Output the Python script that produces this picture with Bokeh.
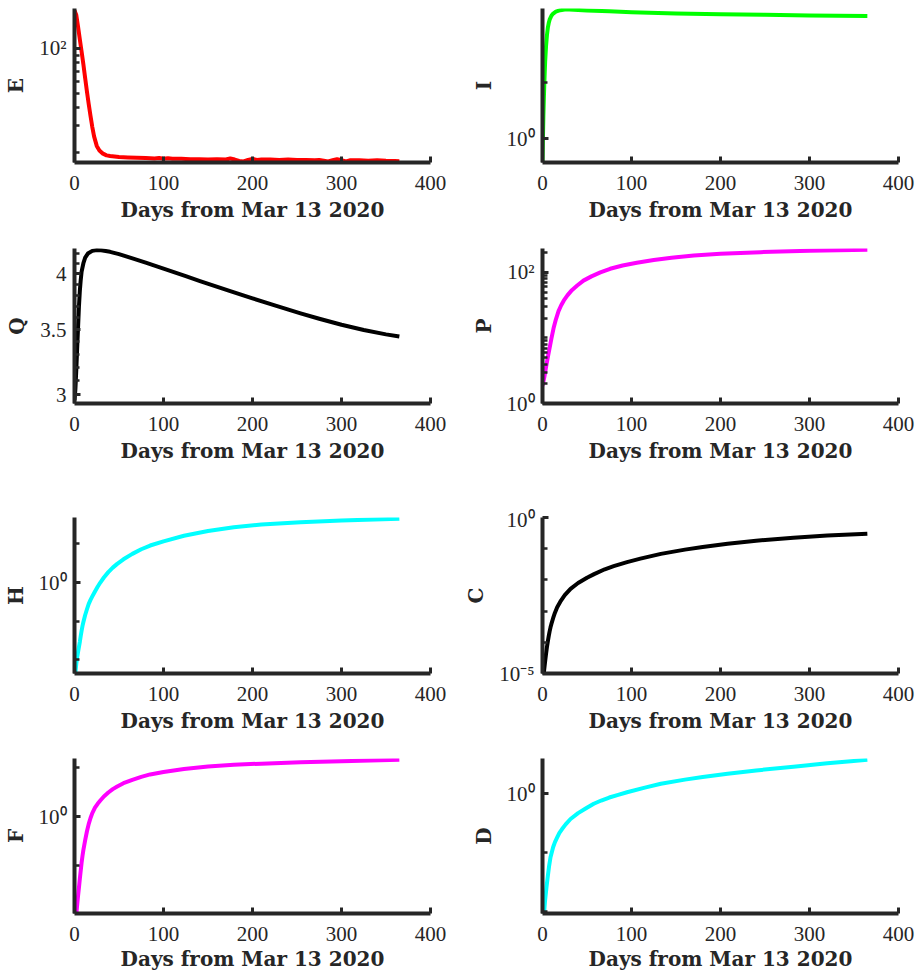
from bokeh.plotting import figure
from bokeh.models import Range1d, FixedTicker, CustomJSTickFormatter
from bokeh.layouts import column, row
from bokeh.embed import file_html
from bokeh.resources import INLINE

X_LABEL = "Days from Mar 13 2020"
x_ticks = [0, 100, 200, 300, 400]

# ---- E ----
E_days = [0, 2, 4, 6, 8, 10, 12, 14, 16, 18, 20, 22, 25, 28, 32, 36, 40, 50, 60, 70,
          80, 90, 95, 100, 105, 110, 120, 130, 140, 150, 160, 170, 175, 180, 185, 190, 195, 200, 205, 210,
          220, 230, 240, 250, 260, 270, 275, 280, 285, 290, 295, 300, 305, 310, 320, 330, 340, 350, 360, 365]
E_vals = [180, 168, 140, 115, 95, 78, 63, 51, 42, 35, 29.5, 25.5, 22, 20.5, 19.5, 19, 18.8, 18.5, 18.4, 18.3,
          18.2, 18.1, 18.25, 18.0, 18.15, 18.0, 18.0, 17.9, 17.9, 17.8, 17.9, 17.8, 18.1, 17.8, 17.4, 17.3, 17.7, 18.0, 17.7, 17.8,
          17.8, 17.7, 17.8, 17.7, 17.7, 17.6, 17.7, 17.5, 17.3, 17.6, 17.9, 17.6, 17.3, 17.6, 17.6, 17.5, 17.6, 17.45, 17.4, 17.35]
E_range = (17.0, 186.0)
E_major = [100]
E_minor = [20, 30, 40, 50, 60, 70, 80, 90]

# ---- I ----
I_days = [0, 0.5, 1, 1.5, 2, 2.5, 3, 4, 5, 6, 7, 8, 10, 12, 15, 20, 25, 30, 40, 50, 75, 100, 150, 200, 250, 300, 365]
I_vals = [0.38, 1.0, 2.5, 5, 9, 15, 24, 45, 70, 95, 115, 132, 155, 170, 184, 195, 200, 200, 197, 193, 186, 180, 171, 165, 161, 157.5, 153]
I_range = (0.373, 209.0)
I_major = [1]
I_minor = [10]

# ---- Q ----
Q_days = [0, 1, 2, 3, 4, 5, 6, 7, 8, 10, 12, 15, 20, 25, 30, 40, 50, 66, 80, 100,
          125, 141, 175, 200, 225, 254, 275, 300, 325, 350, 365]
Q_vals = [2.96, 3.04, 3.18, 3.35, 3.52, 3.70, 3.84, 3.94, 4.02, 4.10, 4.155, 4.195, 4.222, 4.2306, 4.2275, 4.2125, 4.1895,
          4.1449, 4.1048, 4.0466, 3.9751, 3.930, 3.8375, 3.7714, 3.7084, 3.6393, 3.5929, 3.5419, 3.4975, 3.4619, 3.4438]
Q_range = (2.937, 4.246)
Q_major = [3, 3.5, 4]
Q_minor = [3.1, 3.2, 3.3, 3.4, 3.6, 3.7, 3.8, 3.9, 4.1, 4.2]

# ---- P ----
P_days = [0, 2, 4, 6, 8, 10, 12.7, 15, 18, 21, 24, 28, 33, 39, 46, 55, 65, 76, 90, 106, 125, 145, 170, 200, 245, 300, 365]
P_vals = [1.86, 2.51, 3.63, 5.09, 7.08, 9.77, 14.6, 19.1, 25.7, 31.6, 37.4, 44.7, 53.7, 63.1, 75.0, 87.1, 100, 113.8, 127.4,
          140.6, 154.9, 167.9, 182, 192.8, 204.2, 213.8, 221.8]
P_range = (1.0, 232.0)
P_major = [1, 100]
P_minor = [2, 3, 4, 5, 6, 7, 8, 9, 10, 20, 30, 40, 50, 60, 70, 80, 90, 200]

# ---- H ----
H_days = [0, 1, 2, 3, 4, 5, 6, 7, 8, 9, 10, 12, 14, 16, 18, 20, 23, 26, 29, 33, 38, 43, 48, 55, 65, 75, 85,
          100, 123, 150, 179, 210, 254, 300, 365]
H_vals = [0.00251, 0.00468, 0.00794, 0.0117, 0.0162, 0.0219, 0.0295, 0.0417, 0.0575, 0.0759, 0.0955, 0.145, 0.204,
          0.282, 0.355, 0.437, 0.589, 0.776, 1.0, 1.35, 1.86, 2.43, 3.04, 3.98, 5.5, 7.24, 9.04,
          11.6, 16.2, 21.4, 26.9, 31.6, 36.3, 40.3, 44.7]
H_range = (0.00447, 47.9)
H_major = [1]
H_minor = [0.01, 0.1, 10]

# ---- C ----
C_days = [0, 1, 2, 3, 4, 5, 6, 7, 8, 9, 10, 12, 14, 16.5, 20, 25, 31.5, 40, 50, 58, 70, 80, 95, 110, 133,
          160, 180, 208, 240, 282, 320, 365]
C_vals = [4e-6, 7.9e-6, 1.41e-5, 2.51e-5, 4.27e-5, 7.08e-5, 1.07e-4, 1.58e-4, 2.24e-4, 3.02e-4, 3.89e-4, 6.03e-4,
          8.91e-4, 1.33e-3, 2.0e-3, 3.24e-3, 5.19e-3, 7.94e-3, 1.17e-2, 1.53e-2, 2.19e-2, 2.75e-2, 3.72e-2, 4.79e-2,
          6.84e-2, 9.33e-2, 0.1135, 0.1445, 0.18, 0.224, 0.263, 0.302]
C_range = (1e-5, 1.0)
C_major = [1e-5, 1]
C_minor = [1e-4, 1e-3, 1e-2, 1e-1]

# ---- F ----
F_days = [0, 1, 2, 3, 4, 5, 6, 7, 8, 9, 10, 12, 14, 16, 18, 20, 23, 26, 29, 33, 38, 43, 48, 55, 65, 75, 85,
          100, 123, 150, 179, 210, 254, 300, 365]
F_vals = [0.0025, 0.005, 0.01, 0.0158, 0.024, 0.0355, 0.0537, 0.0794, 0.115, 0.158, 0.209, 0.331, 0.501, 0.708,
          0.933, 1.175, 1.514, 1.82, 2.12, 2.57, 3.09, 3.63, 4.12, 4.79, 5.62, 6.46, 7.24,
          8.13, 9.33, 10.47, 11.35, 12.02, 12.82, 13.49, 14.35]
F_range = (0.0105, 15.3)
F_major = [1]
F_minor = [0.1, 10]

# ---- D ----
D_days = [0, 1, 2, 3, 4.5, 6, 7.5, 9, 12, 14, 16.5, 19, 22, 26, 31.5, 40, 48, 57.6, 66, 75, 85, 95, 115, 133,
          160, 180, 208, 240, 282, 320, 365]
D_vals = [0.004, 0.0065, 0.0105, 0.016, 0.026, 0.040, 0.06, 0.083, 0.124, 0.15, 0.18, 0.215, 0.25, 0.30, 0.37,
          0.465, 0.55, 0.67, 0.76, 0.855, 0.95, 1.05, 1.26, 1.46, 1.72, 1.91, 2.16, 2.46, 2.85, 3.25, 3.72]
D_range = (0.00925, 3.92)
D_major = [1]
D_minor = [0.01, 0.1]

AX = "#262626"
POW_CODE = r"""
const sup = {"-": "\u207b", "0": "\u2070", "1": "\u00b9", "2": "\u00b2", "3": "\u00b3",
             "4": "\u2074", "5": "\u2075", "6": "\u2076", "7": "\u2077", "8": "\u2078", "9": "\u2079"};
const e = Math.round(Math.log10(tick));
return "10" + String(e).split("").map(c => sup[c]).join("");
"""
PLAIN_CODE = "return String(Math.round(tick * 100) / 100);"

# (top border, frame height, bottom border, x-title standoff)
ROWS = [(8, 154, 76, 5), (10, 155, 104, 5), (10, 156, 75, 5), (10, 155, 64, 3)]
COLS = [(74, 20), (92, 18)]


def panel(days, vals, color, label, yr, majors, minors, code, r, c):
    top, fh, bottom, title_gap = ROWS[r]
    left, right = COLS[c]
    p = figure(frame_width=356, frame_height=fh,
               min_border_left=left, min_border_right=right,
               min_border_top=top, min_border_bottom=bottom,
               x_range=Range1d(0, 400), y_range=Range1d(*yr),
               y_axis_type="log", output_backend="svg", toolbar_location=None,
               background_fill_color="white", border_fill_color="white")
    p.outline_line_color = None
    p.xgrid.visible = False
    p.ygrid.visible = False
    p.line(days, vals, line_color=color, line_width=4, line_join="round")
    for ax in (p.xaxis[0], p.yaxis[0]):
        ax.axis_line_width = 4
        ax.axis_line_color = AX
        ax.major_tick_in = 6
        ax.major_tick_out = 0
        ax.major_tick_line_width = 3
        ax.major_tick_line_color = AX
        ax.minor_tick_in = 5
        ax.minor_tick_out = 0
        ax.minor_tick_line_width = 2.5
        ax.minor_tick_line_color = AX
        ax.major_label_text_font = "Liberation Serif"
        ax.major_label_text_font_size = "21px"
        ax.major_label_text_color = AX
        ax.axis_label_text_font = "DejaVu Serif"
        ax.axis_label_text_font_style = "bold"
        ax.axis_label_text_font_size = "20px"
        ax.axis_label_text_color = AX
    xa = p.xaxis[0]
    xa.ticker = FixedTicker(ticks=x_ticks, minor_ticks=[])
    xa.axis_label = X_LABEL
    xa.major_label_standoff = 13
    xa.axis_label_standoff = title_gap
    ya = p.yaxis[0]
    ya.ticker = FixedTicker(ticks=majors, minor_ticks=minors)
    ya.formatter = CustomJSTickFormatter(code=code)
    ya.axis_label = label
    ya.major_label_standoff = 8
    ya.axis_label_standoff = 8
    return p


specs = [
    (E_days, E_vals, "#ff0000", "E", E_range, E_major, E_minor, POW_CODE),
    (I_days, I_vals, "#00ff00", "I", I_range, I_major, I_minor, POW_CODE),
    (Q_days, Q_vals, "#000000", "Q", Q_range, Q_major, Q_minor, PLAIN_CODE),
    (P_days, P_vals, "#ff00ff", "P", P_range, P_major, P_minor, POW_CODE),
    (H_days, H_vals, "#00ffff", "H", H_range, H_major, H_minor, POW_CODE),
    (C_days, C_vals, "#000000", "C", C_range, C_major, C_minor, POW_CODE),
    (F_days, F_vals, "#ff00ff", "F", F_range, F_major, F_minor, POW_CODE),
    (D_days, D_vals, "#00ffff", "D", D_range, D_major, D_minor, POW_CODE),
]

plots = [panel(*s, r=i // 2, c=i % 2) for i, s in enumerate(specs)]
layout = column(*[row(plots[2 * k], plots[2 * k + 1]) for k in range(4)])

open("out.html", "w").write(file_html(layout, INLINE))
